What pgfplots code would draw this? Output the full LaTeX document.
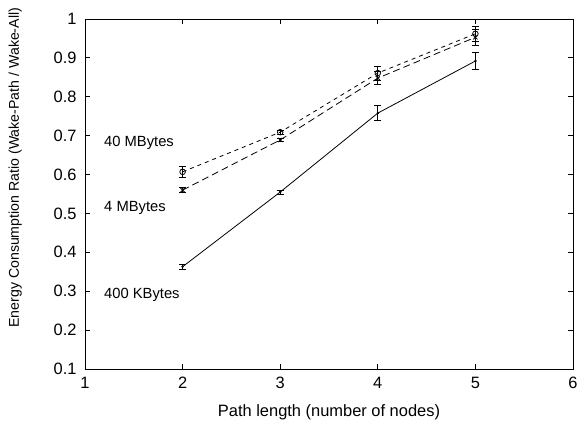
\documentclass[border=0pt]{standalone}
\usepackage{fontspec}
\setmainfont{Liberation Sans}
\usepackage{pgfplots}
\pgfplotsset{compat=1.18}

\begin{document}
\begin{tikzpicture}
  \useasboundingbox (-85bp,-52bp) rectangle (495bp,369bp);
  \begin{axis}[
      scale only axis,
      width=488bp, height=350bp,
      xmin=1, xmax=6, ymin=0.1, ymax=1,
      xtick={1,2,3,4,5,6},
      ytick={0.1,0.2,0.3,0.4,0.5,0.6,0.7,0.8,0.9,1},
      yticklabels={0.1,0.2,0.3,0.4,0.5,0.6,0.7,0.8,0.9,1},
      tick align=inside,
      major tick length=5bp,
      tick style={black, line width=0.8bp},
      axis line style={line width=0.9bp},
      font=\fontsize{16.5}{19}\selectfont,
      /pgf/number format/assume math mode=true,
      xticklabel style={yshift=-5bp},
      yticklabel style={xshift=-5bp},
      xlabel={Path length (number of nodes)},
      ylabel={Energy Consumption Ratio (Wake-Path / Wake-All)},
      xlabel style={at={(axis description cs:0.5,-0.123)}, anchor=center},
      ylabel style={at={(axis description cs:-0.143,0.575)}, anchor=center,
        font=\fontsize{14.2}{17}\selectfont},
      every axis plot/.append style={black, line width=0.8bp},
      error bars/y dir=both,
      error bars/y explicit,
      error bars/error bar style={solid, line width=0.8bp},
      error bars/error mark options={solid, rotate=90, mark size=3.5bp, line width=0.8bp},
    ]
    % 40 MBytes
    \addplot[dash pattern=on 4bp off 4bp, mark=o, mark size=2.8bp, mark options={solid}]
      coordinates {
        (2,0.607) +- (0,0.014)
        (3,0.709) +- (0,0.005)
        (4,0.861) +- (0,0.018)
        (5,0.962) +- (0,0.020)
      };
    % 4 MBytes
    \addplot[dash pattern=on 7bp off 4bp, mark=x, mark size=3bp, mark options={solid}]
      coordinates {
        (2,0.560) +- (0,0.006)
        (3,0.689) +- (0,0.004)
        (4,0.848) +- (0,0.016)
        (5,0.953) +- (0,0.020)
      };
    % 400 KBytes
    \addplot[solid, mark=*, mark size=0.8bp]
      coordinates {
        (2,0.363) +- (0,0.006)
        (3,0.555) +- (0,0.005)
        (4,0.758) +- (0,0.020)
        (5,0.892) +- (0,0.022)
      };
    \node[anchor=west, inner sep=0pt, font=\fontsize{14.8}{17}\selectfont] at (axis cs:1.195,0.681) {40 MBytes};
    \node[anchor=west, inner sep=0pt, font=\fontsize{14.8}{17}\selectfont] at (axis cs:1.195,0.514) {4 MBytes};
    \node[anchor=west, inner sep=0pt, font=\fontsize{14.8}{17}\selectfont] at (axis cs:1.195,0.290) {400 KBytes};
  \end{axis}
\end{tikzpicture}
\end{document}
